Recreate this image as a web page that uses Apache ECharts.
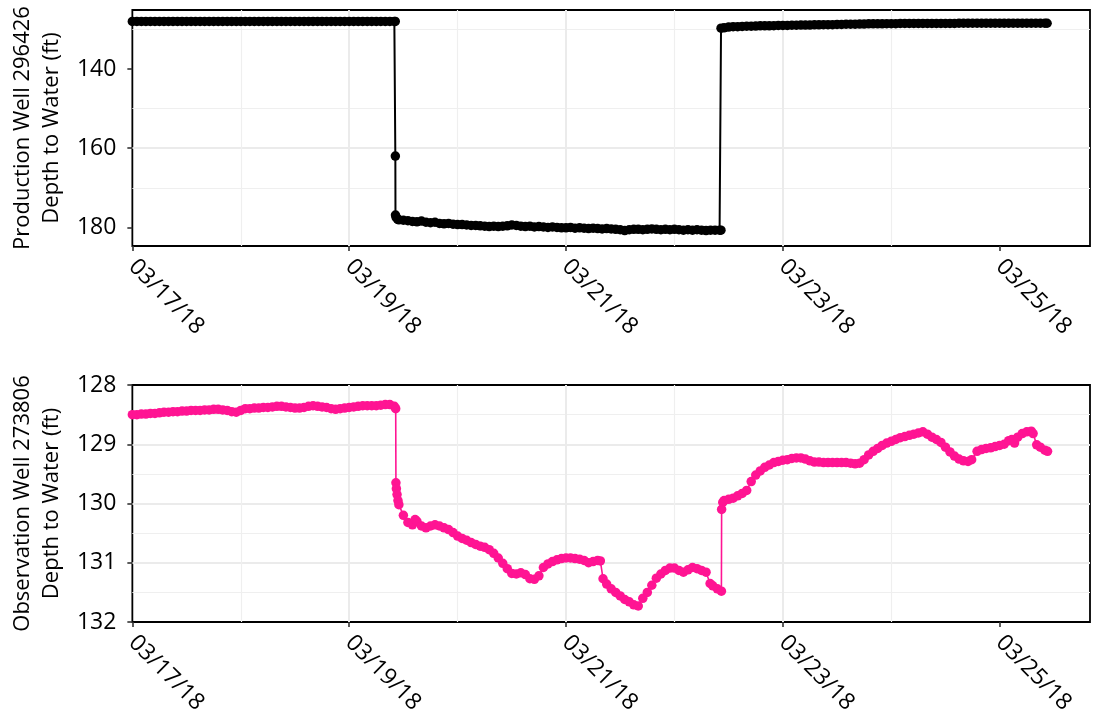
<!DOCTYPE html>
<html>
<head>
<meta charset="utf-8">
<script src="https://cdn.jsdelivr.net/npm/echarts@6/dist/echarts.min.js"></script>
<style>
html,body{margin:0;padding:0;background:#fff;}
#chart{width:1099px;height:724px;}
</style>
</head>
<body>
<div id="chart"></div>
<script>
// Time in hours since 03/17/18 00:00
const tickHours = [0, 48, 96, 144, 192];
const tickLabels = ['03/17/18', '03/19/18', '03/21/18', '03/23/18', '03/25/18'];
const prodTicks = [140, 160, 180];
const obsTicks = [128, 129, 130, 131, 132];

// Production Well 296426 depth to water (ft)
const productionWell = [
[0,128.0],[1,128.0],[2,128.0],[3,128.0],[4,128.0],[5,128.0],[6,128.0],[7,128.0],[8,128.0],[9,128.0],
[10,128.0],[11,128.0],[12,128.0],[13,128.0],[14,128.0],[15,128.0],[16,128.0],[17,128.0],[18,128.0],[19,128.0],
[20,128.0],[21,128.0],[22,128.0],[23,128.0],[24,128.0],[25,128.0],[26,128.0],[27,128.0],[28,128.0],[29,128.0],
[30,128.0],[31,128.0],[32,128.0],[33,128.0],[34,128.0],[35,128.0],[36,128.0],[37,128.0],[38,128.0],[39,128.0],
[40,128.0],[41,128.0],[42,128.0],[43,128.0],[44,128.0],[45,128.0],[46,128.0],[47,128.0],[48,128.0],[49,128.0],
[50,128.0],[51,128.0],[52,128.0],[53,128.0],[54,128.0],[55,128.0],[56,128.0],[57,128.0],[58,128.0],
[58.2,128.0],[58.22,162.0],[58.25,176.9],[58.4,177.5],[58.7,177.9],
[59,178.1],[60,178.2],[61,178.3],[62,178.5],[63,178.6],[64,178.4],[65,178.7],[66,178.8],[67,178.7],[68,179.0],
[69,179.1],[70,179.0],[71,179.2],[72,179.3],[73,179.3],[74,179.4],[75,179.5],[76,179.5],[77,179.6],[78,179.7],
[79,179.8],[80,179.7],[81,179.8],[82,179.7],[83,179.6],[84,179.4],[85,179.5],[86,179.7],[87,179.8],[88,179.7],
[89,179.9],[90,179.8],[91,179.9],[92,180.0],[93,179.9],[94,180.0],[95,180.1],[96,180.1],[97,180.0],[98,180.2],
[99,180.1],[100,180.2],[101,180.3],[102,180.2],[103,180.3],[104,180.4],[105,180.3],[106,180.4],[107,180.5],[108,180.6],
[109,180.8],[110,180.6],[111,180.5],[112,180.5],[113,180.6],[114,180.5],[115,180.4],[116,180.5],[117,180.6],[118,180.5],
[119,180.6],[120,180.5],[121,180.6],[122,180.7],[123,180.6],[124,180.7],[125,180.6],[126,180.7],[127,180.8],[128,180.7],
[129,180.7],[130,180.7],[130.3,180.7],
[130.32,129.7],[131,129.6],[132,129.4],[133,129.3],[134,129.3],[135,129.25],[136,129.2],[137,129.2],[138,129.15],[139,129.1],
[140,129.1],[141,129.1],[142,129.05],[143,129.0],[144,129.0],[145,129.0],[146,128.95],[147,128.95],[148,128.9],[149,128.9],
[150,128.9],[151,128.85],[152,128.85],[153,128.8],[154,128.8],[155,128.8],[156,128.75],[157,128.75],[158,128.7],[159,128.7],
[160,128.7],[161,128.65],[162,128.65],[163,128.6],[164,128.6],[165,128.6],[166,128.6],[167,128.55],[168,128.55],[169,128.55],
[170,128.5],[171,128.5],[172,128.5],[173,128.5],[174,128.5],[175,128.5],[176,128.5],[177,128.5],[178,128.5],[179,128.5],
[180,128.5],[181,128.5],[182,128.5],[183,128.45],[184,128.45],[185,128.45],[186,128.45],[187,128.45],[188,128.45],[189,128.45],
[190,128.45],[191,128.45],[192,128.45],[193,128.45],[194,128.45],[195,128.45],[196,128.45],[197,128.45],[198,128.45],[199,128.45],
[200,128.45],[201,128.45],[202,128.45],[202.5,128.45]
];

// Observation Well 273806 depth to water (ft)
const observationWell = [
[0,128.50],[1,128.50],[2,128.49],[3,128.49],[4,128.48],[5,128.48],[6,128.47],[7,128.46],[8,128.46],[9,128.45],
[10,128.45],[11,128.44],[12,128.44],[13,128.43],[14,128.43],[15,128.43],[16,128.42],[17,128.42],[18,128.41],[19,128.41],
[20,128.42],[21,128.43],[22,128.45],[23,128.46],[24,128.43],[25,128.40],[26,128.40],[27,128.39],[28,128.39],[29,128.38],
[30,128.38],[31,128.37],[32,128.36],[33,128.36],[34,128.37],[35,128.38],[36,128.39],[37,128.39],[38,128.38],[39,128.36],
[40,128.35],[41,128.36],[42,128.37],[43,128.38],[44,128.40],[45,128.41],[46,128.40],[47,128.39],[48,128.38],[49,128.37],
[50,128.36],[51,128.35],[52,128.35],[53,128.35],[54,128.35],[55,128.34],[56,128.33],[57,128.33],[58,128.36],[58.3,128.40],
[58.35,129.65],[58.45,129.75],[58.6,129.85],[58.8,129.95],[59,130.02],[60,130.20],[61,130.32],[62,130.36],[62.6,130.27],[63,130.30],
[64,130.38],[65,130.41],[66,130.38],[67,130.36],[68,130.38],[69,130.41],[70,130.44],[71,130.49],[72,130.55],[73,130.59],
[74,130.62],[75,130.66],[76,130.69],[77,130.72],[78,130.74],[79,130.78],[80,130.84],[81,130.92],[82,131.01],[83,131.10],
[84,131.18],[85,131.19],[86,131.17],[87,131.20],[88,131.27],[89,131.28],[90,131.22],[91,131.08],[92,131.02],[93,130.98],
[94,130.95],[95,130.93],[96,130.92],[97,130.92],[98,130.93],[99,130.94],[100,130.96],[101,131.00],[102,130.98],[103,130.96],
[103.6,130.97],[104.2,131.27],[105,131.36],[106,131.44],[107,131.50],[108,131.56],[109,131.62],[110,131.66],[111,131.71],[112,131.73],
[113,131.60],[114,131.50],[115,131.38],[116,131.26],[117,131.19],[118,131.13],[119,131.09],[120,131.09],[121,131.13],[122,131.16],
[123,131.12],[124,131.08],[125,131.10],[126,131.13],[127,131.16],[127.9,131.35],[128.5,131.39],[129.5,131.44],[130.4,131.48],
[130.45,130.10],[130.7,129.98],[131,129.95],[132,129.93],[133,129.91],[134,129.87],[135,129.83],[136,129.78],[137,129.63],[138,129.52],
[139,129.45],[140,129.39],[141,129.35],[142,129.31],[143,129.29],[144,129.27],[145,129.26],[146,129.24],[147,129.23],[148,129.23],
[149,129.25],[150,129.28],[151,129.30],[152,129.30],[153,129.31],[154,129.31],[155,129.31],[156,129.31],[157,129.31],[158,129.31],
[159,129.32],[160,129.33],[161,129.32],[162,129.26],[163,129.18],[164,129.12],[165,129.07],[166,129.02],[167,128.98],[168,128.95],
[169,128.92],[170,128.89],[171,128.87],[172,128.85],[173,128.83],[174,128.81],[175,128.79],[176,128.83],[177,128.88],[178,128.92],
[179,128.97],[180,129.05],[181,129.13],[182,129.20],[183,129.25],[184,129.28],[185,129.29],[185.8,129.26],[187,129.12],[188,129.09],
[189,129.07],[190,129.06],[191,129.04],[192,129.02],[193,129.00],[194,128.94],[194.7,128.92],[195.3,128.98],[196,128.88],[197,128.82],
[198,128.79],[199,128.78],[199.4,128.82],[200.2,129.01],[201,129.05],[202,129.10],[202.6,129.12]
];

const FONT = 'Open Sans';
const FS = 23;
const chart = echarts.init(document.getElementById('chart'), null, {renderer: 'canvas'});

function xAxisCfg(gridIndex) {
  return {
    type: 'value', gridIndex: gridIndex, min: 0, max: 212, interval: 48,
    axisLine: {show: false},
    axisTick: {show: true, length: 5, lineStyle: {color: '#333', width: 1.6}, customValues: tickHours},
    minorTick: {show: false, splitNumber: 2},
    axisLabel: {
      customValues: tickHours, rotate: -45, margin: 17, color: '#000',
      fontFamily: FONT, fontSize: FS,
      formatter: function (v) { const i = tickHours.indexOf(v); return i >= 0 ? tickLabels[i] : ''; }
    },
    splitLine: {show: true, showMinLine: false, showMaxLine: false, lineStyle: {color: '#EBEBEB', width: 2}},
    minorSplitLine: {show: true, lineStyle: {color: '#EFEFEF', width: 1.2}}
  };
}

const option = {
  animation: false,
  backgroundColor: '#fff',
  grid: [
    {left: 132, right: 9, top: 10, height: 236, show: true, borderColor: '#000', borderWidth: 1.8, backgroundColor: 'transparent', containLabel: false},
    {left: 132, right: 9, top: 385, height: 237, show: true, borderColor: '#000', borderWidth: 1.8, backgroundColor: 'transparent', containLabel: false}
  ],
  xAxis: [xAxisCfg(0), xAxisCfg(1)],
  yAxis: [
    {
      type: 'value', gridIndex: 0, inverse: true, min: 125.1, max: 184.7, splitNumber: 3,
      name: 'Production Well 296426\nDepth to Water (ft)', nameLocation: 'middle', nameGap: 66, nameRotate: 90,
      nameTextStyle: {fontFamily: FONT, fontSize: 22, color: '#000', lineHeight: 29},
      axisLine: {show: false},
      axisTick: {show: true, length: 5, lineStyle: {color: '#333', width: 1.6}, customValues: prodTicks},
      minorTick: {show: false, splitNumber: 2},
      axisLabel: {customValues: prodTicks, margin: 16, color: '#000', fontFamily: FONT, fontSize: FS},
      splitLine: {show: true, showMinLine: false, showMaxLine: false, lineStyle: {color: '#EBEBEB', width: 2}},
      minorSplitLine: {show: true, lineStyle: {color: '#EFEFEF', width: 1.2}}
    },
    {
      type: 'value', gridIndex: 1, inverse: true, min: 128, max: 132, interval: 1,
      name: 'Observation Well 273806\nDepth to Water (ft)', nameLocation: 'middle', nameGap: 66, nameRotate: 90,
      nameTextStyle: {fontFamily: FONT, fontSize: 22, color: '#000', lineHeight: 29},
      axisLine: {show: false},
      axisTick: {show: true, length: 5, lineStyle: {color: '#333', width: 1.6}, customValues: obsTicks},
      minorTick: {show: false, splitNumber: 2},
      axisLabel: {customValues: obsTicks, margin: 16, color: '#000', fontFamily: FONT, fontSize: FS},
      splitLine: {show: true, showMinLine: false, showMaxLine: false, lineStyle: {color: '#EBEBEB', width: 2}},
      minorSplitLine: {show: true, lineStyle: {color: '#EFEFEF', width: 1.2}}
    }
  ],
  series: [
    {
      type: 'line', xAxisIndex: 0, yAxisIndex: 0, data: productionWell,
      symbol: 'circle', symbolSize: 9.5, showAllSymbol: true,
      itemStyle: {color: '#000'}, lineStyle: {color: '#000', width: 2}
    },
    {
      type: 'line', xAxisIndex: 1, yAxisIndex: 1, data: observationWell,
      symbol: 'circle', symbolSize: 9.5, showAllSymbol: true,
      itemStyle: {color: '#FF1493'}, lineStyle: {color: '#FF1493', width: 1.6}
    }
  ]
};
chart.setOption(option);
</script>
</body>
</html>
